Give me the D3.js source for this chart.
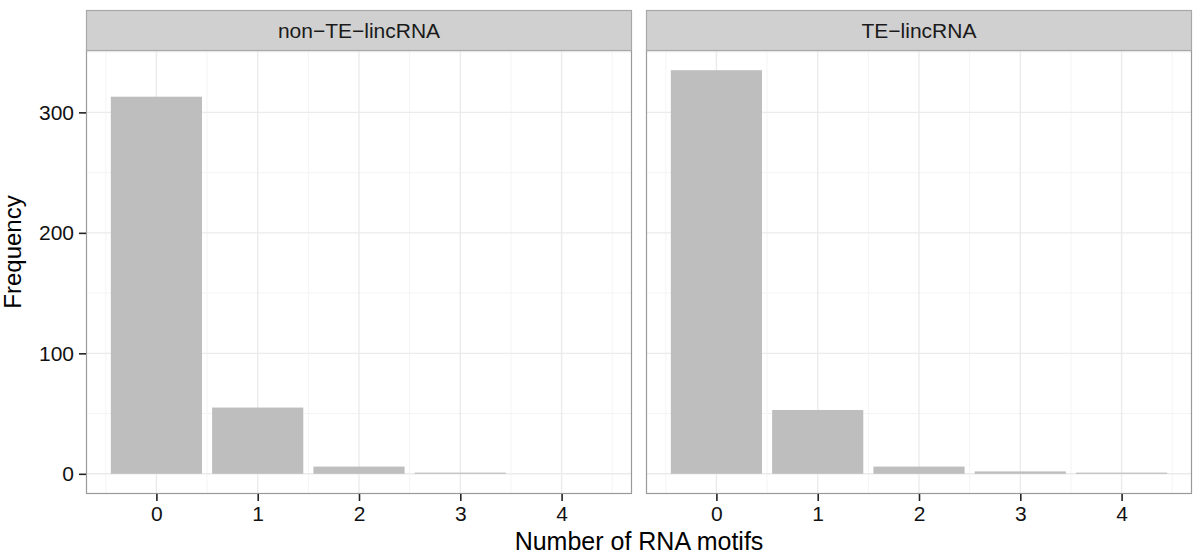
<!DOCTYPE html>
<html>
<head>
<meta charset="utf-8">
<script src="https://cdn.jsdelivr.net/npm/d3@7"></script>
<style>
  body { margin: 0; background: #fff; }
  text { font-family: "Liberation Sans", Arial, Helvetica, sans-serif; }
</style>
</head>
<body>
<svg id="chart" width="1202" height="558"></svg>
<script>
// data
const motifCounts = [0, 1, 2, 3, 4];
const panelNames = ["non\u2212TE\u2212lincRNA", "TE\u2212lincRNA"];
const nonTeFreq = [313, 55, 6, 1, 0];
const teFreq = [335, 53, 6, 2, 1];
const yTicks = [0, 100, 200, 300];
const yMinor = [50, 150, 250, 350];
const xMinor = [-0.5, 0.5, 1.5, 2.5, 3.5, 4.5];

const series = [nonTeFreq, teFreq];

const svg = d3.select("#chart");

// layout
const panelLefts = [86, 646];
const panelW = 546;
const stripTop = 10;
const stripH = 40;
const panelTop = stripTop + stripH;
const panelBottom = 494;
const barWidth = 0.9;

// shared y scale (ggplot expands 5% each side)
const yMax = d3.max(series.flat());
const y = d3
  .scaleLinear()
  .domain([-0.05 * yMax, 1.05 * yMax])
  .range([panelBottom, panelTop]);

const xPad = (4 + barWidth) * 0.05 + barWidth / 2;

series.forEach((vals, i) => {
  const left = panelLefts[i];
  const x = d3
    .scaleLinear()
    .domain([-xPad, 4 + xPad])
    .range([left, left + panelW]);

  const g = svg.append("g");

  // panel background
  g.append("rect")
    .attr("x", left)
    .attr("y", panelTop)
    .attr("width", panelW)
    .attr("height", panelBottom - panelTop)
    .attr("fill", "#fff");

  // minor grid
  g.selectAll(".ymin")
    .data(yMinor)
    .join("line")
    .attr("x1", left)
    .attr("x2", left + panelW)
    .attr("y1", (d) => y(d))
    .attr("y2", (d) => y(d))
    .attr("stroke", "#f4f4f4")
    .attr("stroke-width", 1);
  g.selectAll(".xmin")
    .data(xMinor)
    .join("line")
    .attr("x1", (d) => x(d))
    .attr("x2", (d) => x(d))
    .attr("y1", panelTop)
    .attr("y2", panelBottom)
    .attr("stroke", "#f4f4f4")
    .attr("stroke-width", 1);

  // major grid
  g.selectAll(".ymaj")
    .data(yTicks)
    .join("line")
    .attr("x1", left)
    .attr("x2", left + panelW)
    .attr("y1", (d) => y(d))
    .attr("y2", (d) => y(d))
    .attr("stroke", "#ebebeb")
    .attr("stroke-width", 1.4);
  g.selectAll(".xmaj")
    .data(motifCounts)
    .join("line")
    .attr("x1", (d) => x(d))
    .attr("x2", (d) => x(d))
    .attr("y1", panelTop)
    .attr("y2", panelBottom)
    .attr("stroke", "#ebebeb")
    .attr("stroke-width", 1.4);

  // bars
  g.selectAll(".bar")
    .data(motifCounts)
    .join("rect")
    .attr("x", (d) => x(d - barWidth / 2))
    .attr("width", (d) => x(d + barWidth / 2) - x(d - barWidth / 2))
    .attr("y", (d, j) => y(vals[j]))
    .attr("height", (d, j) => y(0) - y(vals[j]))
    .attr("fill", "#bebebe");

  // panel border
  g.append("rect")
    .attr("x", left + 0.5)
    .attr("y", panelTop + 0.5)
    .attr("width", panelW - 1)
    .attr("height", panelBottom - panelTop - 1)
    .attr("fill", "none")
    .attr("stroke", "#999")
    .attr("stroke-width", 1.2);

  // strip
  g.append("rect")
    .attr("x", left + 0.5)
    .attr("y", stripTop + 0.5)
    .attr("width", panelW - 1)
    .attr("height", stripH)
    .attr("fill", "#d0d0d0")
    .attr("stroke", "#a8a8a8")
    .attr("stroke-width", 1.2);
  g.append("text")
    .attr("x", left + panelW / 2)
    .attr("y", stripTop + 28)
    .attr("text-anchor", "middle")
    .attr("font-size", 21)
    .attr("fill", "#1a1a1a")
    .text(panelNames[i]);

  // x axis
  const xAxis = g
    .append("g")
    .attr("transform", `translate(0,${panelBottom})`)
    .call(d3.axisBottom(x).tickValues(motifCounts).tickFormat(d3.format("d")).tickSize(7).tickPadding(5));
  xAxis.select(".domain").remove();
  xAxis.selectAll(".tick line").attr("stroke", "#222").attr("stroke-width", 1.6);
  xAxis.selectAll(".tick text")
    .attr("font-size", 21)
    .attr("fill", "#111")
    .attr("font-family", "Liberation Sans, Arial, sans-serif");

  // y axis only on the first panel
  if (i === 0) {
    const yAxis = g
      .append("g")
      .attr("transform", `translate(${left},0)`)
      .call(d3.axisLeft(y).tickValues(yTicks).tickSize(7).tickPadding(5));
    yAxis.select(".domain").remove();
    yAxis.selectAll(".tick line").attr("stroke", "#222").attr("stroke-width", 1.6);
    yAxis.selectAll(".tick text")
      .attr("font-size", 21)
      .attr("fill", "#111")
      .attr("font-family", "Liberation Sans, Arial, sans-serif");
  }
});

// axis titles
svg.append("text")
  .attr("x", (panelLefts[0] + panelLefts[1] + panelW) / 2)
  .attr("y", 550)
  .attr("text-anchor", "middle")
  .attr("font-size", 25)
  .attr("fill", "#000")
  .text("Number of RNA motifs");

svg.append("text")
  .attr("transform", `translate(21,${(stripTop + panelBottom) / 2}) rotate(-90)`)
  .attr("text-anchor", "middle")
  .attr("font-size", 24)
  .attr("fill", "#000")
  .text("Frequency");
</script>
</body>
</html>
